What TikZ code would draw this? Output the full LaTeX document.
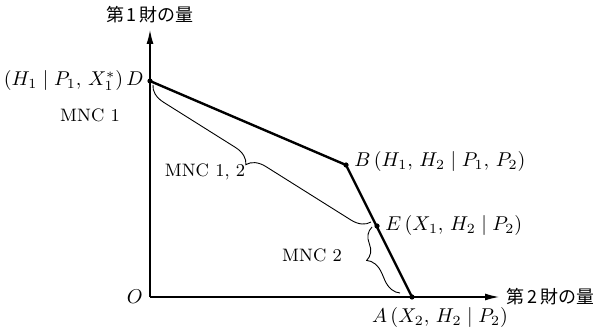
\documentclass[tikz,border=0pt]{standalone}
\usepackage{fontspec}
\newfontfamily\jpfont{Noto Sans CJK JP}
\usetikzlibrary{arrows.meta,decorations.pathreplacing}

\tikzset{
  axis/.style={line width=0.6pt, -{Latex[length=7pt,width=3.5pt]}},
  budget/.style={line width=1.2pt, line join=round},
  mncbrace/.style={line width=0.45pt, decorate, decoration={brace, mirror, amplitude=9pt}},
  lab/.style={font=\fontsize{10}{12}\selectfont, inner sep=1pt},
  mnc/.style={font=\fontsize{9}{11}\selectfont},
  jp/.style={font=\jpfont\fontsize{9}{11}\selectfont},
}

\begin{document}
\begin{tikzpicture}[x=0.5pt,y=-0.5pt]
  \useasboundingbox (0,0) rectangle (593,330);
  % axes
  \coordinate (O) at (150,297);
  \coordinate (ytip) at (150,30);
  \coordinate (xtip) at (499,297);
  \draw[axis] (O) -- (ytip);
  \draw[axis] (O) -- (xtip);
  \node[jp] (ylab) at (150,15) {第\,1\,財の量};
  \node[jp, anchor=west] (xlab) at (xtip) {第\,2\,財の量};
  \node[lab, anchor=east] (Olab) at (145,297) {$O$};
  % budget line D-B-A
  \coordinate (D) at (150,81);
  \coordinate (B) at (346,165);
  \coordinate (E) at (377,226);
  \coordinate (A) at (412,297);
  \draw[budget] (D) -- (B) -- (A);
  \foreach \p in {D,B,E,A}
    \fill (\p) circle (1.3pt);
  % braces
  \coordinate (DEa) at (153,85);
  \coordinate (DEb) at (371,222);
  \coordinate (EAa) at (372,227);
  \coordinate (EAb) at (400,293);
  \draw[mncbrace, decoration={aspect=0.47}] (DEa) -- (DEb);
  \draw[mncbrace, decoration={aspect=0.4}] (EAa) -- (EAb);
  % labels
  \node[lab, anchor=east] (Dlab) at (146,81) {$(H_1\mid P_1,\,X_1^{*})\,D$};
  \node[lab, anchor=west] (Blab) at (352,162) {$B\,(H_1,\,H_2\mid P_1,\,P_2)$};
  \node[lab, anchor=west] (Elab) at (383,226) {$E\,(X_1,\,H_2\mid P_2)$};
  \node[lab] (Alab) at (440,318) {$A\,(X_2,\,H_2\mid P_2)$};
  \node[mnc] (mncone) at (90,115) {MNC 1};
  \node[mnc] (mncboth) at (205,172) {MNC 1, 2};
  \node[mnc] (mnctwo) at (312,255) {MNC 2};
\end{tikzpicture}
\end{document}
